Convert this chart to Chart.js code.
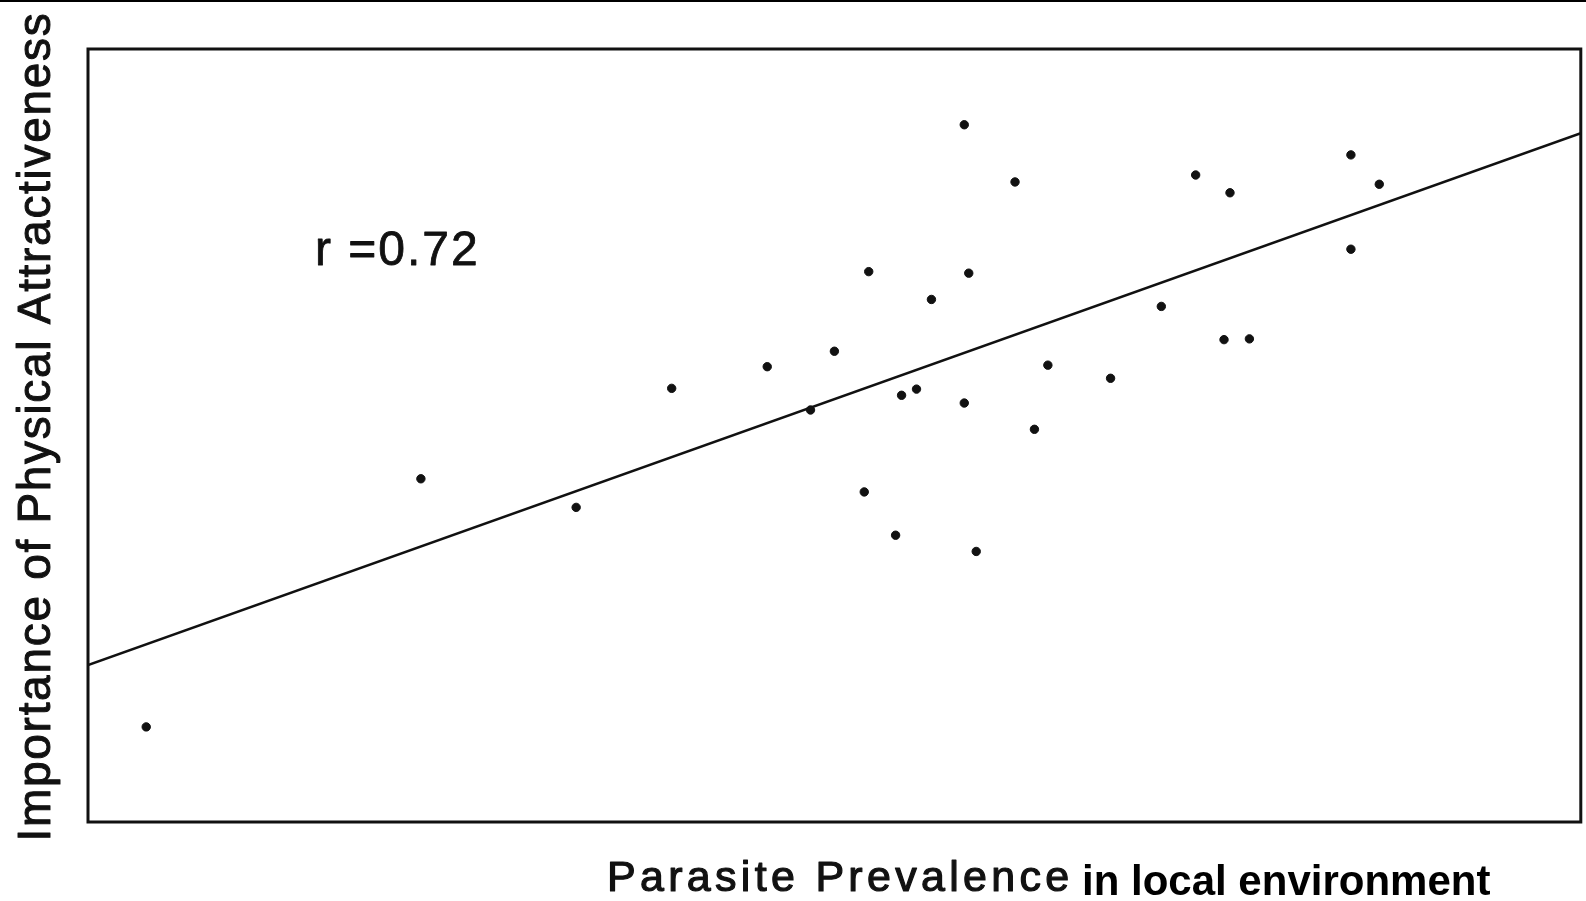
<!DOCTYPE html>
<html>
<head>
<meta charset="utf-8">
<script src="https://cdn.jsdelivr.net/npm/chart.js@4/dist/chart.umd.min.js"></script>
<style>
  html, body { margin: 0; padding: 0; background: #ffffff; }
  #wrap { width: 1586px; height: 901px; position: relative; }
</style>
</head>
<body>
<div id="wrap"><canvas id="c" width="1586" height="901"></canvas></div>
<script>
// Parasite prevalence (x, relative scale 0-100)
const parasiteX = [3.9, 22.3, 32.7, 39.1, 45.5, 48.4, 50.0, 52.0, 52.3, 54.1, 54.5, 55.5, 56.5, 58.7, 58.7, 59.0, 59.5, 62.1, 63.4, 64.3, 68.5, 71.9, 74.2, 76.1, 76.5, 77.8, 84.6, 84.6, 86.5];
// Importance of physical attractiveness (y, relative scale 0-100)
const attractY = [12.3, 44.4, 40.7, 56.1, 58.9, 53.3, 60.9, 42.7, 71.2, 37.1, 55.2, 56.0, 67.6, 54.2, 90.2, 71.0, 35.0, 82.8, 50.8, 59.1, 57.4, 66.7, 83.7, 62.4, 81.4, 62.5, 86.3, 74.1, 82.5];
// Regression line end points
const fitX = [0, 100];
const fitY = [20.3, 89.1];
const rLabel = "r =0.72";
const rPos = [15.2, 72.0];
const xTitleA = "Parasite Prevalence";
const xTitleB = "in local environment";
const yTitle = "Importance of Physical Attractiveness";

const points = parasiteX.map((x, i) => ({ x: x, y: attractY[i] }));
const fit = fitX.map((x, i) => ({ x: x, y: fitY[i] }));

function heavyText(ctx, text, x, y, w) {
  ctx.lineWidth = w;
  ctx.lineJoin = 'round';
  ctx.strokeText(text, x, y);
  ctx.fillText(text, x, y);
}

const decor = {
  id: 'decor',
  beforeDatasetsDraw(chart) {
    const ctx = chart.ctx, a = chart.chartArea;
    ctx.save();
    ctx.fillStyle = '#000';
    ctx.fillRect(0, 0, chart.width, 2);
    ctx.strokeStyle = '#111';
    ctx.lineWidth = 3;
    ctx.strokeRect(a.left, a.top, a.right - a.left, a.bottom - a.top);
    ctx.restore();
  },
  afterDraw(chart) {
    const ctx = chart.ctx, a = chart.chartArea;
    const sx = chart.scales.x, sy = chart.scales.y;
    ctx.save();
    ctx.fillStyle = '#111';
    ctx.strokeStyle = '#111';
    // y title
    ctx.save();
    ctx.translate(50, (a.top + a.bottom) / 2 - 9);
    ctx.rotate(-Math.PI / 2);
    ctx.font = '46px "Liberation Sans", Arial, sans-serif';
    ctx.letterSpacing = '1.7px';
    ctx.textAlign = 'center';
    ctx.textBaseline = 'alphabetic';
    heavyText(ctx, yTitle, 0, 0, 1.0);
    ctx.restore();
    // x title
    ctx.textBaseline = 'alphabetic';
    ctx.textAlign = 'left';
    ctx.font = '43px "Liberation Sans", Arial, sans-serif';
    ctx.letterSpacing = '4.3px';
    heavyText(ctx, xTitleA, 607, 891, 1.2);
    ctx.font = 'bold 42px "Liberation Sans", Arial, sans-serif';
    ctx.letterSpacing = '0px';
    ctx.fillStyle = '#000';
    ctx.fillText(xTitleB, 1082, 895);
    // r annotation
    ctx.fillStyle = '#111';
    ctx.font = '48px "Liberation Sans", Arial, sans-serif';
    ctx.letterSpacing = '2px';
    heavyText(ctx, rLabel, sx.getPixelForValue(rPos[0]), sy.getPixelForValue(rPos[1]), 0.8);
    ctx.restore();
  }
};

new Chart(document.getElementById('c'), {
  type: 'scatter',
  data: {
    datasets: [
      {
        label: 'Countries',
        data: points,
        backgroundColor: '#111',
        borderColor: '#111',
        pointRadius: 4.2,
        pointHoverRadius: 4.2,
        pointStyle: 'circle'
      },
      {
        type: 'line',
        label: 'Fit',
        data: fit,
        borderColor: '#111',
        borderWidth: 2.6,
        pointRadius: 0,
        fill: false,
        tension: 0
      }
    ]
  },
  options: {
    responsive: false,
    animation: false,
    events: [],
    layout: { padding: { left: 88, right: 2, top: 49, bottom: 79 } },
    plugins: { legend: { display: false }, tooltip: { enabled: false } },
    scales: {
      x: { type: 'linear', min: 0, max: 100, display: false },
      y: { type: 'linear', min: 0, max: 100, display: false }
    }
  },
  plugins: [decor]
});
</script>
</body>
</html>
